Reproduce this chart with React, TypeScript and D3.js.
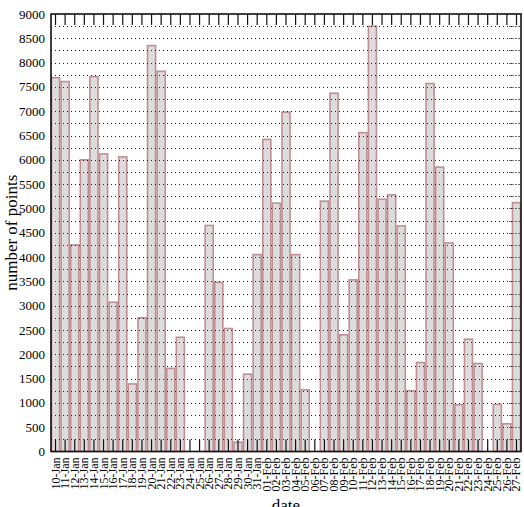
import { useEffect, useRef } from 'react';
import * as d3 from 'd3';

const janDays = ['10', '11', '12', '13', '14', '15', '16', '17', '18', '19', '20', '21', '22', '23', '24', '25', '26', '27', '28', '29', '30', '31'];
const febDays = ['01', '02', '03', '04', '05', '06', '07', '08', '09', '10', '11', '12', '13', '14', '15', '16', '17', '18', '19', '20', '21', '22', '23', '24', '25', '26', '27'];
const dates = [...janDays.map(d => `${d}-Jan`), ...febDays.map(d => `${d}-Feb`)];

const janPoints = [7690, 7610, 4250, 6000, 7710, 6120, 3070, 6060, 1390, 2750, 8350, 7820, 1710, 2350, 0, 0, 4650, 3480, 2530, 190, 1590, 4050];
const febPoints = [6420, 5110, 6980, 4050, 1270, 0, 5150, 7370, 2400, 3530, 6560, 8750, 5190, 5280, 4640, 1250, 1830, 7570, 5850, 4290, 960, 2310, 1810, 0, 970, 570, 5120];
const points = [...janPoints, ...febPoints];

const yTicks = d3.range(0, 9001, 500);
const gridValues = d3.range(250, 9000, 250);

export default function App() {
  const svgRef = useRef<SVGSVGElement>(null);

  useEffect(() => {
    if (!svgRef.current) return;
    const width = 524;
    const height = 507;
    const margin = { top: 14, right: 3, bottom: 56, left: 51 };
    const innerW = width - margin.left - margin.right;
    const innerH = 451.5 - margin.top;
    const font = '"Liberation Serif", "Times New Roman", serif';

    d3.select(svgRef.current).selectAll('*').remove();

    const svg = d3.select(svgRef.current)
      .attr('width', width)
      .attr('height', height)
      .append('g')
      .attr('transform', `translate(${margin.left},${margin.top})`);

    const x = d3.scaleBand()
      .domain(dates)
      .range([0, innerW])
      .paddingInner(0.16)
      .paddingOuter(0.05);

    const y = d3.scaleLinear().domain([0, 9000]).range([innerH, 0]);

    // bars
    svg.selectAll('.bar')
      .data(dates.map((d, i) => ({ date: d, value: points[i] })).filter(d => d.value > 0))
      .enter()
      .append('rect')
      .attr('class', 'bar')
      .attr('x', d => x(d.date) as number)
      .attr('y', d => y(d.value))
      .attr('width', x.bandwidth())
      .attr('height', d => innerH - y(d.value))
      .attr('fill', '#dcdcdc')
      .attr('stroke', '#bf8f95')
      .attr('stroke-width', 1.6);

    // dotted grid
    svg.append('g')
      .selectAll('line')
      .data(gridValues)
      .enter()
      .append('line')
      .attr('x1', 0)
      .attr('x2', innerW)
      .attr('y1', d => Math.round(y(d)) + 0.5)
      .attr('y2', d => Math.round(y(d)) + 0.5)
      .attr('stroke', '#222')
      .attr('stroke-width', 1)
      .attr('stroke-dasharray', '1,3');

    // right inner ticks
    svg.append('g')
      .selectAll('line')
      .data(gridValues)
      .enter()
      .append('line')
      .attr('x1', innerW - 12)
      .attr('x2', innerW)
      .attr('y1', d => Math.round(y(d)) + 0.5)
      .attr('y2', d => Math.round(y(d)) + 0.5)
      .attr('stroke', '#666')
      .attr('stroke-width', 0.8)
      .attr('stroke-dasharray', '2,1');

    // x ticks (bottom and top, pointing inward)
    const xc = (d: string) => (x(d) as number) + x.bandwidth() / 2;
    svg.append('g')
      .selectAll('line')
      .data(dates)
      .enter()
      .append('line')
      .attr('x1', xc)
      .attr('x2', xc)
      .attr('y1', innerH)
      .attr('y2', innerH - 12)
      .attr('stroke', '#111')
      .attr('stroke-width', 1.2);
    svg.append('g')
      .selectAll('line')
      .data(dates)
      .enter()
      .append('line')
      .attr('x1', xc)
      .attr('x2', xc)
      .attr('y1', 0)
      .attr('y2', 11)
      .attr('stroke', '#111')
      .attr('stroke-width', 1.2);

    // frame
    svg.append('rect')
      .attr('x', 0)
      .attr('y', 0)
      .attr('width', innerW)
      .attr('height', innerH)
      .attr('fill', 'none')
      .attr('stroke', '#111')
      .attr('stroke-width', 1.6);

    // y tick labels
    svg.append('g')
      .selectAll('text')
      .data(yTicks)
      .enter()
      .append('text')
      .attr('x', -6)
      .attr('y', d => y(d))
      .attr('dy', '0.35em')
      .attr('text-anchor', 'end')
      .style('font-family', font)
      .style('font-size', '13px')
      .text(d => String(d));

    // x tick labels
    svg.append('g')
      .selectAll('text')
      .data(dates)
      .enter()
      .append('text')
      .attr('transform', d => `translate(${xc(d) + 4},${innerH + 6}) rotate(-90)`)
      .attr('text-anchor', 'end')
      .style('font-family', font)
      .style('font-size', '12px')
      .text(d => d);

    svg.append('text')
      .attr('transform', `translate(${-margin.left + 17},${innerH / 2}) rotate(-90)`)
      .attr('text-anchor', 'middle')
      .style('font-family', font)
      .style('font-size', '17px')
      .text('number of points');

    svg.append('text')
      .attr('x', innerW / 2)
      .attr('y', height - margin.top + 4)
      .attr('text-anchor', 'middle')
      .style('font-family', font)
      .style('font-size', '17px')
      .text('date');
  }, []);

  return (
    <div style={{ position: 'absolute', left: 0, top: 0, background: '#fff' }}>
      <svg ref={svgRef} style={{ display: 'block' }}></svg>
    </div>
  );
}
